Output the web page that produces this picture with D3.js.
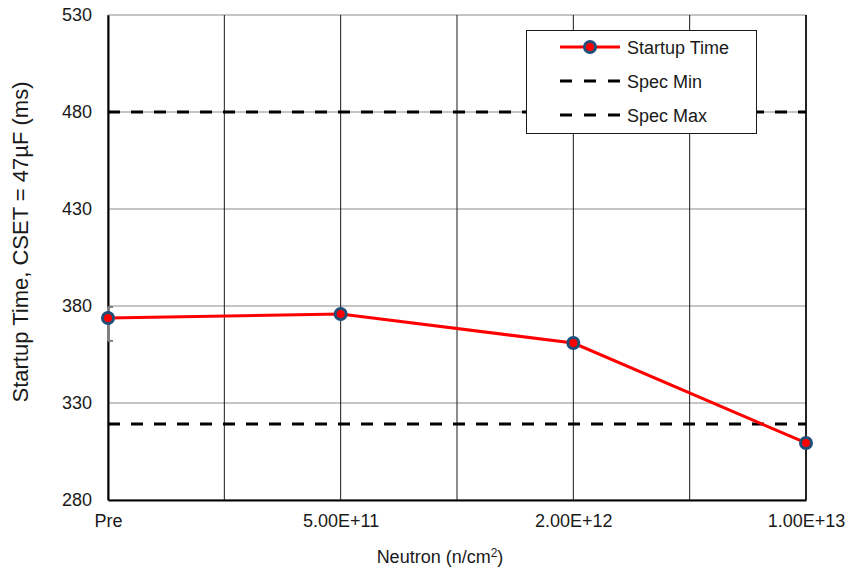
<!DOCTYPE html>
<html>
<head>
<meta charset="utf-8">
<script src="https://cdn.jsdelivr.net/npm/d3@7"></script>
<style>
  body { margin: 0; background: #fff; }
  svg { display: block; font-family: "Liberation Sans", Arial, sans-serif; }
</style>
</head>
<body>
<svg id="chart" width="851" height="570"></svg>
<script>
// Fluence categories along the x axis
const categories = ["Pre", "5.00E+11", "2.00E+12", "1.00E+13"];
// Startup time (ms) at each fluence
const startupTime = [373.8, 375.9, 360.9, 309.4];
// Spread of the pre-irradiation measurement
const preErrorHigh = 379.5;
const preErrorLow = 362.0;
// Specification limits (ms)
const specMin = 319.2;
const specMax = 480;
// Y-axis tick labels
const yTicks = [280, 330, 380, 430, 480, 530];

const svg = d3.select("#chart");
const plotLeft = 108, plotRight = 806, plotTop = 15, plotBottom = 500;
const fontFamily = "Liberation Sans, Arial, sans-serif";

const x = d3.scalePoint().domain(categories).range([plotLeft, plotRight]);
const y = d3.scaleLinear().domain([280, 530]).range([plotBottom, plotTop]);

// Vertical grid lines: at each category and halfway between
const step = x.step();
const vGrid = [];
categories.forEach((c, i) => {
  vGrid.push(x(c));
  if (i < categories.length - 1) vGrid.push(x(c) + step / 2);
});

svg.append("g").selectAll("line").data(yTicks).join("line")
  .attr("x1", plotLeft).attr("x2", plotRight)
  .attr("y1", d => y(d)).attr("y2", d => y(d))
  .attr("stroke", "#8c8c8c").attr("stroke-width", 1.2);

svg.append("g").selectAll("line").data(vGrid).join("line")
  .attr("x1", d => d).attr("x2", d => d)
  .attr("y1", plotTop).attr("y2", plotBottom)
  .attr("stroke", "#1a1a1a").attr("stroke-width", 1);

// Axes
const yAxis = d3.axisLeft(y).tickValues(yTicks).tickSize(0).tickPadding(16);
const gy = svg.append("g").attr("transform", `translate(${plotLeft},0)`).call(yAxis);
gy.select(".domain").attr("stroke", "#000").attr("stroke-width", 2);
gy.selectAll("text").attr("font-size", 18).attr("fill", "#1a1a1a")
  .attr("font-family", fontFamily);

const xAxis = d3.axisBottom(x).tickSize(0).tickPadding(14);
const gx = svg.append("g").attr("transform", `translate(0,${plotBottom})`).call(xAxis);
gx.select(".domain").attr("stroke", "#000").attr("stroke-width", 2);
gx.selectAll("text").attr("font-size", 18).attr("fill", "#1a1a1a")
  .attr("font-family", fontFamily);

// Right border of the plot area
svg.append("line").attr("x1", plotRight).attr("x2", plotRight)
  .attr("y1", plotTop).attr("y2", plotBottom).attr("stroke", "#000").attr("stroke-width", 1.5);

// Spec limit lines
[specMin, specMax].forEach(v => {
  svg.append("line")
    .attr("x1", plotLeft).attr("x2", plotRight)
    .attr("y1", y(v)).attr("y2", y(v))
    .attr("stroke", "#000").attr("stroke-width", 3)
    .attr("stroke-dasharray", "12,11");
});

// Error bar on the first point (cap drawn inside the plot only)
const ex = x(categories[0]);
svg.append("line").attr("x1", ex).attr("x2", ex)
  .attr("y1", y(preErrorHigh)).attr("y2", y(preErrorLow))
  .attr("stroke", "#7f7f7f").attr("stroke-width", 2);
[preErrorHigh, preErrorLow].forEach(v => {
  svg.append("line").attr("x1", ex).attr("x2", ex + 5)
    .attr("y1", y(v)).attr("y2", y(v))
    .attr("stroke", "#7f7f7f").attr("stroke-width", 2);
});

// Startup time series
const line = d3.line().x((d, i) => x(categories[i])).y(d => y(d));
svg.append("path").datum(startupTime)
  .attr("d", line).attr("fill", "none")
  .attr("stroke", "#ff0000").attr("stroke-width", 3);

svg.append("g").selectAll("circle").data(startupTime).join("circle")
  .attr("cx", (d, i) => x(categories[i])).attr("cy", d => y(d))
  .attr("r", 5.5).attr("fill", "#ff0000")
  .attr("stroke", "#1f4e79").attr("stroke-width", 3);

// Axis titles
svg.append("text").attr("x", 440).attr("y", 563)
  .attr("text-anchor", "middle").attr("font-size", 18).attr("fill", "#1a1a1a")
  .html('Neutron (n/cm<tspan dy="-6" font-size="12">2</tspan><tspan dy="6">)</tspan>');

svg.append("text")
  .attr("transform", `translate(28,242) rotate(-90)`)
  .attr("text-anchor", "middle").attr("font-size", 22).attr("fill", "#1a1a1a")
  .text("Startup Time, CSET = 47µF (ms)");

// Legend
const lg = svg.append("g");
lg.append("rect").attr("x", 526.5).attr("y", 30.5).attr("width", 230).attr("height", 103)
  .attr("fill", "#fff").attr("stroke", "#1a1a1a").attr("stroke-width", 1);

const legendItems = [
  { label: "Startup Time", type: "series" },
  { label: "Spec Min", type: "dash" },
  { label: "Spec Max", type: "dash" }
];
legendItems.forEach((it, i) => {
  const ly = 47 + i * 34;
  if (it.type === "series") {
    lg.append("line").attr("x1", 560).attr("x2", 620).attr("y1", ly).attr("y2", ly)
      .attr("stroke", "#ff0000").attr("stroke-width", 3);
    lg.append("circle").attr("cx", 590).attr("cy", ly).attr("r", 5.5)
      .attr("fill", "#ff0000").attr("stroke", "#1f4e79").attr("stroke-width", 3);
  } else {
    lg.append("line").attr("x1", 560).attr("x2", 620).attr("y1", ly).attr("y2", ly)
      .attr("stroke", "#000").attr("stroke-width", 3).attr("stroke-dasharray", "12,12");
  }
  lg.append("text").attr("x", 627).attr("y", ly + 6.5)
    .attr("font-size", 18).attr("fill", "#1a1a1a").text(it.label);
});
</script>
</body>
</html>
